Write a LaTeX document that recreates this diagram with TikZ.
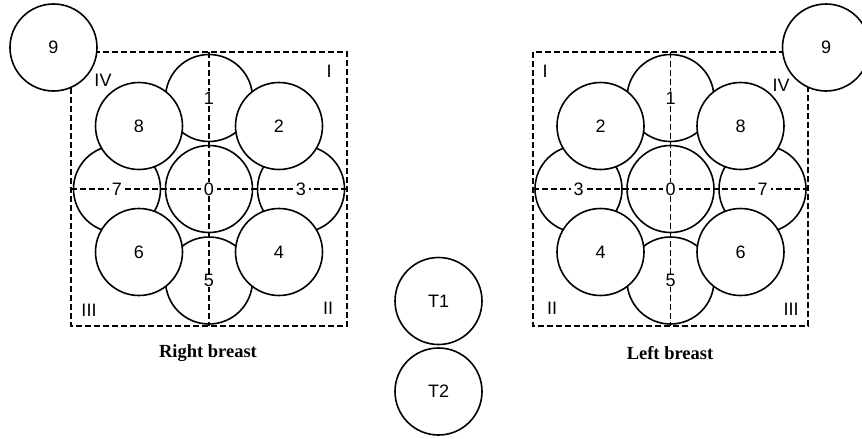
\documentclass[tikz,border=0pt]{standalone}
\usepackage{fontspec}
\setmainfont{Liberation Sans}
\newfontfamily\capfont{Liberation Serif}
\begin{document}
\begin{tikzpicture}[x=1pt,y=-1pt,
  zone/.style={circle,draw=black,fill=white,line width=1.6pt,minimum size=87pt,inner sep=0pt},
  numlab/.style={fill=white,inner xsep=3pt,inner ysep=0.5pt,font=\fontsize{18}{18}\selectfont},
  quadlab/.style={inner sep=0pt,font=\fontsize{18}{18}\selectfont},
  dashline/.style={line width=1.6pt,dash pattern=on 6pt off 3pt},
  caption/.style={font=\capfont\bfseries\fontsize{18.5}{19}\selectfont}]
\useasboundingbox (0,0) rectangle (862,439);
\clip (0,0) rectangle (862,439);

% ---------- Right breast ----------
\coordinate (RC) at (209,189);
\node[zone] (R1) at (209,98) {};
\node[zone] (R7) at (117,189) {};
\node[zone] (R3) at (301,189) {};
\node[zone] (R5) at (209,280.5) {};
\node[zone] (R0) at (209,189) {};
\node[zone] (R8) at (139,126) {};
\node[zone] (R2) at (279,126) {};
\node[zone] (R6) at (139,252) {};
\node[zone] (R4) at (279,252) {};
\coordinate (RTL) at (71,52);
\coordinate (RBR) at (347,326);
\draw[dashline] (RTL) rectangle (RBR);
\draw[dashline] (RTL -| RC) -- (RBR -| RC);
\draw[dashline] (RTL |- RC) -- (RBR |- RC);
\node[zone] (R9) at (53.5,47.5) {};
\foreach \n in {0,1,2,3,4,5,6,7,8,9} {\node[numlab] at (R\n) {\n};}
\node[quadlab] (RqIV) at (103,80) {IV};
\node[quadlab] (RqI) at (329,71) {I};
\node[quadlab] (RqIII) at (89,310) {III};
\node[quadlab] (RqII) at (328,308) {II};
\node[caption] (Rcap) at (208,353) {Right breast};

% ---------- Left breast ----------
\coordinate (LC) at (670.5,189);
\node[zone] (L1) at (670.5,98) {};
\node[zone] (L3) at (578.5,189) {};
\node[zone] (L7) at (762.5,189) {};
\node[zone] (L5) at (670.5,280.5) {};
\node[zone] (L0) at (670.5,189) {};
\node[zone] (L2) at (600.5,126) {};
\node[zone] (L8) at (740.5,126) {};
\node[zone] (L4) at (600.5,252) {};
\node[zone] (L6) at (740.5,252) {};
\coordinate (LTL) at (533,52);
\coordinate (LBR) at (808,326);
\draw[dashline] (LTL) rectangle (LBR);
\draw[dashline] (LTL -| LC) -- (LBR -| LC);
\draw[dashline] (LTL |- LC) -- (LBR |- LC);
\node[zone] (L9) at (826,47.5) {};
\foreach \n in {0,1,2,3,4,5,6,7,8,9} {\node[numlab] at (L\n) {\n};}
\node[quadlab] (LqI) at (545,71) {I};
\node[quadlab] (LqIV) at (781,85) {IV};
\node[quadlab] (LqII) at (552,308) {II};
\node[quadlab] (LqIII) at (791,309) {III};
\node[caption] (Lcap) at (670,353) {Left breast};

% ---------- T1, T2 ----------
\node[zone,font=\fontsize{18}{18}\selectfont] (T1) at (438.5,301) {T1};
\node[zone,font=\fontsize{18}{18}\selectfont] (T2) at (438.5,391.5) {T2};
\end{tikzpicture}
\end{document}
